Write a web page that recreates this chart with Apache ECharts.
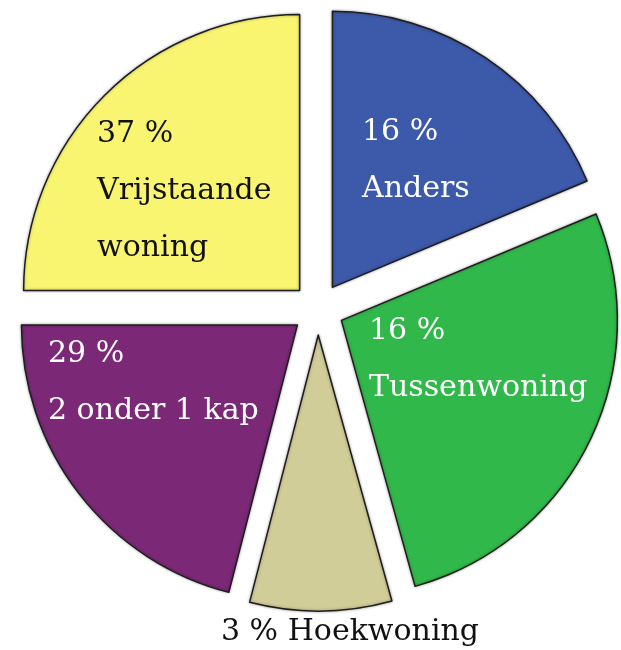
<!DOCTYPE html>
<html>
<head>
<meta charset="utf-8">
<script src="https://cdn.jsdelivr.net/npm/echarts@6/dist/echarts.min.js"></script>
<style>
  html, body { margin: 0; padding: 0; background: #fff; }
  #chart { width: 621px; height: 650px; }
</style>
</head>
<body>
<div id="chart"></div>
<script>
// slices, clockwise from the top
let names = ['Anders', 'Tussenwoning', 'Hoekwoning', '2 onder 1 kap', 'Vrijstaande\nwoning']
// percentages printed on the slices
let pctLabels = [16, 16, 3, 29, 37]
// slice sizes as drawn in the picture
let sliceSizes = [18.7, 27, 8.3, 21, 25]
let colors = ['#3d59a9', '#30b84a', '#d1cd98', '#7b2877', '#f9f571']
let textColors = ['#fff', '#fff', '#111', '#fff', '#111']

// where each label sits (left/top of the text block)
let labelPos = [
  { x: 362, y: 104, align: 'left' },
  { x: 369, y: 303, align: 'left' },
  { x: 350, y: 604, align: 'center' },
  { x: 48, y: 326, align: 'left' },
  { x: 97, y: 106, align: 'left' }
]

let myChart = echarts.init(document.getElementById('chart'))

let labels = names.map(function (n, i) {
  let p = labelPos[i]
  return {
    type: 'text',
    x: p.x,
    y: p.y,
    z: 10,
    silent: true,
    style: {
      text: i === 2 ? pctLabels[i] + ' % ' + n : pctLabels[i] + ' %\n' + n,
      fill: textColors[i],
      font: '30px "DejaVu Serif"',
      lineHeight: 57,
      align: p.align,
      verticalAlign: 'top'
    }
  }
})

let option = {
  animation: false,
  graphic: labels,
  series: [
    {
      type: 'pie',
      center: [318, 309],
      radius: [0, 276],
      startAngle: 90,
      clockwise: true,
      selectedMode: 'multiple',
      selectedOffset: 26,
      silent: true,
      itemStyle: {
        borderColor: '#1e1e1e',
        borderWidth: 1.5,
        shadowBlur: 3,
        shadowColor: 'rgba(0,0,0,0.35)'
      },
      label: { show: false },
      labelLine: { show: false },
      data: names.map(function (n, i) {
        return {
          name: n,
          value: sliceSizes[i],
          selected: true,
          itemStyle: { color: colors[i] }
        }
      })
    }
  ]
}
myChart.setOption(option)
</script>
</body>
</html>
